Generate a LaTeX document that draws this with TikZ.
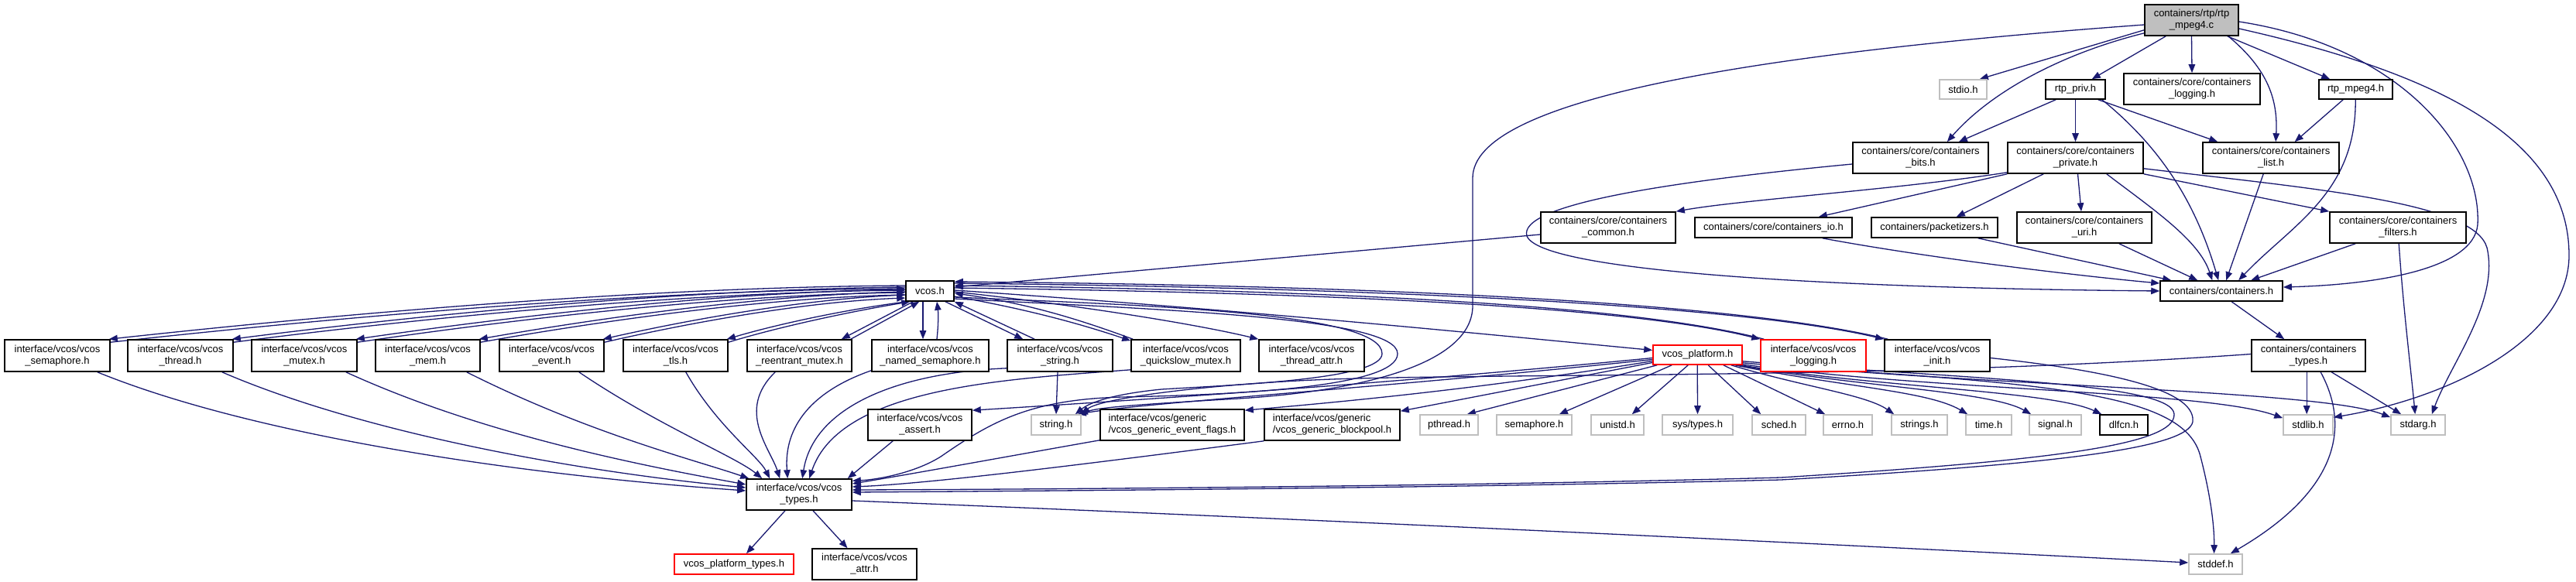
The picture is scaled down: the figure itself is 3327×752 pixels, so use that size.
\documentclass[tikz,border=0pt]{standalone}
\usepackage{fontspec}
\newfontfamily\nodefont{Liberation Sans}
\usetikzlibrary{arrows.meta}
\definecolor{edgec}{RGB}{25,25,112}
\definecolor{grayb}{RGB}{191,191,191}
\definecolor{redb}{RGB}{255,0,0}
\pgfdeclarelayer{bg}
\pgfsetlayers{bg,main}
\tikzset{
 nb/.style={draw=black, line width=1.6pt, fill=white, inner sep=0pt, align=center, font=\nodefont\fontsize{13pt}{15pt}\selectfont, text=black},
 ng/.style={nb, draw=grayb},
 nr/.style={nb, draw=redb},
 nmain/.style={nb, fill=grayb},
 nl/.style={nb, align=left},
 ed/.style={draw=edgec, line width=1.3pt, -{Triangle[length=11pt,width=8.5pt]}},
}
\newcommand{\mkbox}[7]{\node[#2, minimum width={(#4-#3)*1pt}, minimum height={(#6-#5)*1pt}] (#1) at ({(#3+#4)/2},{-(#5+#6)/2}) {#7};}
\begin{document}
\begin{tikzpicture}[x=1pt,y=1pt]
\useasboundingbox (0,0) rectangle (3327,-752);
% nodes
\mkbox{main}{nmain}{2770}{2891}{6}{46}{containers/rtp/rtp\\\_mpeg4.c}
\mkbox{stdio}{ng}{2505}{2566}{103}{128}{stdio.h}
\mkbox{rtppriv}{nb}{2642}{2719}{103}{128}{rtp\_priv.h}
\mkbox{clog}{nb}{2743}{2919}{95}{135}{containers/core/containers\\\_logging.h}
\mkbox{rtpmp4h}{nb}{2995}{3090}{103}{128}{rtp\_mpeg4.h}
\mkbox{bits}{nb}{2393}{2568}{184}{224}{containers/core/containers\\\_bits.h}
\mkbox{priv}{nb}{2593}{2768}{184}{224}{containers/core/containers\\\_private.h}
\mkbox{clist}{nb}{2845}{3021}{184}{224}{containers/core/containers\\\_list.h}
\mkbox{ccommon}{nb}{1990}{2164}{274}{314}{containers/core/containers\\\_common.h}
\mkbox{cio}{nb}{2189}{2392}{281}{307}{containers/core/containers\_io.h}
\mkbox{pkt}{nb}{2417}{2580}{281}{307}{containers/packetizers.h}
\mkbox{curi}{nb}{2605}{2779}{274}{314}{containers/core/containers\\\_uri.h}
\mkbox{cfilt}{nb}{3009}{3185}{274}{314}{containers/core/containers\\\_filters.h}
\mkbox{vcos}{nb}{1170}{1232}{363}{389}{vcos.h}
\mkbox{cont}{nb}{2790}{2948}{363}{389}{containers/containers.h}
\mkbox{vsem}{nb}{6}{142}{439}{480}{interface/vcos/vcos\\\_semaphore.h}
\mkbox{vthr}{nb}{165}{301}{439}{480}{interface/vcos/vcos\\\_thread.h}
\mkbox{vmut}{nb}{325}{461}{439}{480}{interface/vcos/vcos\\\_mutex.h}
\mkbox{vmem}{nb}{485}{620}{439}{480}{interface/vcos/vcos\\\_mem.h}
\mkbox{vevt}{nb}{645}{780}{439}{480}{interface/vcos/vcos\\\_event.h}
\mkbox{vtls}{nb}{805}{940}{439}{480}{interface/vcos/vcos\\\_tls.h}
\mkbox{vrmut}{nb}{965}{1100}{439}{480}{interface/vcos/vcos\\\_reentrant\_mutex.h}
\mkbox{vnsem}{nb}{1126}{1277}{439}{480}{interface/vcos/vcos\\\_named\_semaphore.h}
\mkbox{vstr}{nb}{1301}{1437}{439}{480}{interface/vcos/vcos\\\_string.h}
\mkbox{vqs}{nb}{1461}{1602}{439}{480}{interface/vcos/vcos\\\_quickslow\_mutex.h}
\mkbox{vta}{nb}{1626}{1762}{439}{480}{interface/vcos/vcos\\\_thread\_attr.h}
\mkbox{vplat}{nr}{2135}{2250}{446}{471}{vcos\_platform.h}
\mkbox{vlog}{nr}{2274}{2410}{439}{480}{interface/vcos/vcos\\\_logging.h}
\mkbox{vinit}{nb}{2434}{2570}{439}{480}{interface/vcos/vcos\\\_init.h}
\mkbox{ctypes}{nb}{2908}{3055}{439}{480}{containers/containers\\\_types.h}
\mkbox{vassert}{nb}{1121}{1255}{529}{569}{interface/vcos/vcos\\\_assert.h}
\mkbox{stringh}{ng}{1332}{1396}{536}{562}{string.h}
\mkbox{evf}{nl}{1421}{1607}{529}{569}{interface/vcos/generic\\/vcos\_generic\_event\_flags.h}
\mkbox{bpool}{nl}{1633}{1808}{529}{569}{interface/vcos/generic\\/vcos\_generic\_blockpool.h}
\mkbox{pthread}{ng}{1834}{1909}{536}{562}{pthread.h}
\mkbox{semh}{ng}{1933}{2030}{536}{562}{semaphore.h}
\mkbox{unistd}{ng}{2055}{2123}{536}{562}{unistd.h}
\mkbox{systypes}{ng}{2147}{2238}{536}{562}{sys/types.h}
\mkbox{sched}{ng}{2263}{2332}{536}{562}{sched.h}
\mkbox{errno}{ng}{2355}{2418}{536}{562}{errno.h}
\mkbox{strings}{ng}{2443}{2515}{536}{562}{strings.h}
\mkbox{timeh}{ng}{2539}{2598}{536}{562}{time.h}
\mkbox{signal}{ng}{2621}{2688}{536}{562}{signal.h}
\mkbox{dlfcn}{nb}{2712}{2774}{536}{562}{dlfcn.h}
\mkbox{stdlib}{ng}{2949}{3013}{536}{562}{stdlib.h}
\mkbox{stdarg}{ng}{3088}{3158}{536}{562}{stdarg.h}
\mkbox{vtypes}{nb}{964}{1100}{619}{659}{interface/vcos/vcos\\\_types.h}
\mkbox{vpt}{nr}{871}{1025}{716}{742}{vcos\_platform\_types.h}
\mkbox{vattr}{nb}{1049}{1184}{709}{749}{interface/vcos/vcos\\\_attr.h}
\mkbox{stddef}{ng}{2827}{2896}{716}{742}{stddef.h}
% edges
\begin{pgfonlayer}{bg}
% from main
\draw[ed] ([yshift=8pt]main.south west) -- ([xshift=-10pt]stdio.north east);
\draw[ed] ([xshift=28pt]main.south west) -- ([xshift=-18pt]rtppriv.north east);
\draw[ed] (main.south) -- (clog.north);
\draw[ed] ([xshift=-15pt]main.south east) -- ([xshift=15pt]rtpmp4h.north west);
\draw[ed] ([yshift=4pt]main.south west) .. controls (2660,-70) and (2570,-120) .. ([xshift=-54pt]bits.north east);
\draw[ed] ([xshift=-14pt]main.south east) .. controls (2930,-90) and (2942,-130) .. ([xshift=95pt]clist.north west);
\draw[ed] ([yshift=-2pt]main.east) .. controls (3100,-60) and (3205,-190) .. (3200,-290) .. controls (3195,-350) and (3060,-368) .. ([yshift=5pt]cont.east);
\draw[ed] ([yshift=-11pt]main.east) .. controls (3150,-95) and (3318,-180) .. (3318,-330) .. controls (3318,-440) and (3160,-515) .. ([yshift=-4pt]stdlib.north east);
\draw[ed] ([yshift=-6pt]main.west) .. controls (2250,-70) and (1902,-130) .. (1902,-230) -- (1902,-395) .. controls (1902,-470) and (1760,-505) .. (1600,-515) .. controls (1480,-522) and (1420,-526) .. ([xshift=-3pt]stringh.north east);
% rtp_priv.h
\draw[ed] ([xshift=14pt]rtppriv.south west) -- ([xshift=-39pt]bits.north east);
\draw[ed] (rtppriv.south) -- (priv.north);
\draw[ed] ([xshift=-10pt]rtppriv.south east) -- ([xshift=20pt]clist.north west);
\draw[ed] ([xshift=-5pt]rtppriv.south east) .. controls (2790,-190) and (2835,-260) .. ([xshift=76pt]cont.north west);
% rtp_mpeg4.h
\draw[ed] ([xshift=32pt]rtpmp4h.south west) -- ([xshift=-58pt]clist.north east);
\draw[ed] ([xshift=48pt]rtpmp4h.south west) .. controls (3043,-250) and (2960,-290) .. ([xshift=102pt]cont.north west);
% bits
\draw[ed] ([yshift=-8pt]bits.west) .. controls (2150,-235) and (1960,-265) .. (1972,-305) .. controls (1990,-350) and (2350,-372) .. (cont.west);
% private
\draw[ed] ([yshift=2pt]priv.south west) .. controls (2450,-245) and (2250,-258) .. (ccommon.north east);
\draw[ed] (priv.south west) -- ([xshift=-44pt]cio.north east);
\draw[ed] ([xshift=47pt]priv.south west) -- ([xshift=-54pt]pkt.north east);
\draw[ed] ([xshift=3pt]priv.south) -- ([xshift=-4pt]curi.north);
\draw[ed] ([xshift=-48pt]priv.south east) .. controls (2780,-270) and (2840,-310) .. ([xshift=68pt]cont.north west);
\draw[ed] (priv.south east) -- (cfilt.north west);
\draw[ed] ([yshift=7pt]priv.south east) .. controls (3000,-245) and (3195,-262) .. (3212,-320) .. controls (3228,-390) and (3165,-470) .. ([xshift=-18pt]stdarg.north east);
% common
\draw[ed] ([yshift=-9pt]ccommon.west) -- ([yshift=5pt]vcos.east);
% into containers.h
\draw[ed] ([xshift=-39pt]cio.south east) .. controls (2500,-335) and (2700,-358) .. ([yshift=10pt]cont.west);
\draw[ed] ([xshift=-26pt]pkt.south east) -- ([xshift=15pt]cont.north west);
\draw[ed] ([xshift=-43pt]curi.south east) -- ([xshift=49pt]cont.north west);
\draw[ed] ([xshift=79pt]clist.south west) -- ([xshift=86pt]cont.north west);
\draw[ed] ([xshift=34pt]cfilt.south west) -- ([xshift=118pt]cont.north west);
\draw[ed] ([xshift=90pt]cfilt.south west) .. controls (3104,-400) and (3114,-480) .. ([xshift=32pt]stdarg.north west);
\draw[ed] ([xshift=93pt]cont.south west) -- ([xshift=43pt]ctypes.north west);
% containers_types
\draw[ed] ([xshift=72pt]ctypes.south west) -- ([xshift=31pt]stdlib.north west);
\draw[ed] ([xshift=104pt]ctypes.south west) -- ([xshift=14pt]stdarg.north west);
\draw[ed] ([xshift=90pt]ctypes.south west) .. controls (3040,-560) and (3010,-640) .. ([xshift=-16pt]stddef.north east);
\draw[ed] ([yshift=2pt]ctypes.west) .. controls (2450,-490) and (1950,-482) .. (1720,-490) .. controls (1560,-496) and (1420,-515) .. (stringh.north east);
% vcos <-> left headers
\draw[ed] ([yshift=7pt]vcos.west) .. controls (810,-371) and (400,-410) .. ([xshift=-2pt]vsem.north east);
\draw[ed] ([yshift=-4pt]vsem.north east) .. controls (400,-414) and (810,-375) .. ([yshift=3pt]vcos.west);
\draw[ed] ([yshift=5pt]vcos.west) .. controls (866,-374) and (518,-410) .. ([xshift=-2pt]vthr.north east);
\draw[ed] ([yshift=-4pt]vthr.north east) .. controls (518,-414) and (866,-378) .. ([yshift=1pt]vcos.west);
\draw[ed] ([yshift=2pt]vcos.west) .. controls (922,-377) and (640,-412) .. ([xshift=-2pt]vmut.north east);
\draw[ed] ([yshift=-4pt]vmut.north east) .. controls (640,-416) and (922,-381) .. ([yshift=-2pt]vcos.west);
\draw[ed] ([yshift=-1pt]vcos.west) .. controls (977,-381) and (757,-414) .. ([xshift=-2pt]vmem.north east);
\draw[ed] ([yshift=-4pt]vmem.north east) .. controls (757,-418) and (977,-385) .. ([yshift=-5pt]vcos.west);
\draw[ed] ([yshift=-5pt]vcos.west) .. controls (1033,-386) and (877,-416) .. ([xshift=-2pt]vevt.north east);
\draw[ed] ([yshift=-4pt]vevt.north east) .. controls (877,-420) and (1033,-390) .. ([yshift=-9pt]vcos.west);
\draw[ed] ([xshift=2pt]vcos.south west) .. controls (1090,-400) and (1000,-420) .. ([xshift=-2pt]vtls.north east);
\draw[ed] ([yshift=-4pt]vtls.north east) .. controls (1000,-424) and (1090,-404) .. ([xshift=6pt]vcos.south west);
\draw[ed] ([xshift=10pt]vcos.south west) -- ([xshift=-14pt]vrmut.north east);
\draw[ed] ([xshift=-2pt]vrmut.north east) -- ([xshift=18pt]vcos.south west);
\draw[ed] ([xshift=-9pt]vcos.south) -- ([xshift=-9.5pt]vnsem.north);
\draw[ed] ([xshift=8.5pt]vnsem.north) .. controls (1212,-420) and (1212,-405) .. ([xshift=9pt]vcos.south);
\draw[ed] ([xshift=20pt]vcos.south) -- ([xshift=21pt]vstr.north west);
\draw[ed] ([xshift=36pt]vstr.north west) -- (vcos.south east);
\draw[ed] ([yshift=-7pt]vcos.east) .. controls (1330,-400) and (1400,-420) .. ([yshift=-2pt]vqs.north west);
\draw[ed] ([xshift=3pt]vqs.north west) .. controls (1400,-415) and (1330,-392) .. ([yshift=-3pt]vcos.east);
\draw[ed] ([yshift=-1pt]vcos.east) .. controls (1400,-395) and (1550,-420) .. (vta.north west);
\draw[ed] ([yshift=1pt]vcos.east) .. controls (1600,-400) and (1900,-430) .. ([yshift=6pt]vplat.west);
\draw[ed] ([yshift=4pt]vcos.east) .. controls (1700,-378) and (2100,-395) .. (vlog.north west);
\draw[ed] ([xshift=5pt]vlog.north west) .. controls (2100,-392) and (1700,-375) .. ([yshift=7pt]vcos.east);
\draw[ed] ([yshift=10pt]vcos.east) .. controls (1800,-372) and (2250,-395) .. (vinit.north west);
\draw[ed] ([xshift=5pt]vinit.north west) .. controls (2250,-392) and (1800,-369) .. ([yshift=12pt]vcos.east);
\draw[ed] ([yshift=-10pt]vcos.east) .. controls (1500,-400) and (1805,-410) .. (1805,-457) .. controls (1805,-500) and (1600,-510) .. (1450,-513) .. controls (1330,-516) and (1280,-545) .. (1215,-590) .. controls (1180,-612) and (1130,-620) .. ([yshift=-3pt]vtypes.north east);
\draw[ed] ([yshift=-8pt]vcos.east) .. controls (1500,-395) and (1785,-405) .. (1785,-457) .. controls (1785,-490) and (1600,-497) .. (1500,-503) .. controls (1430,-510) and (1405,-522) .. ([xshift=-8pt]stringh.north east);
% vcos_platform.h
\draw[ed] ([yshift=-4pt]vplat.west) .. controls (1800,-495) and (1500,-515) .. ([yshift=-2pt]vassert.north east);
\draw[ed] ([yshift=-6pt]vplat.west) .. controls (1800,-500) and (1480,-520) .. ([xshift=-5pt]stringh.north east);
\draw[ed] ([yshift=-8pt]vplat.west) .. controls (1900,-505) and (1700,-522) .. ([yshift=-2pt]evf.north east);
\draw[ed] ([yshift=-10pt]vplat.west) -- ([yshift=-3pt]bpool.north east);
\draw[ed] ([xshift=6pt]vplat.south west) -- ([xshift=-15pt]pthread.north east);
\draw[ed] ([xshift=25pt]vplat.south west) -- ([xshift=-17pt]semh.north east);
\draw[ed] ([xshift=46pt]vplat.south west) -- ([xshift=-16pt]unistd.north east);
\draw[ed] ([xshift=58pt]vplat.south west) -- (systypes.north);
\draw[ed] ([xshift=72pt]vplat.south west) -- ([xshift=12pt]sched.north west);
\draw[ed] ([xshift=-25pt]vplat.south east) -- ([xshift=3pt]errno.north west);
\draw[ed] ([xshift=-15pt]vplat.south east) .. controls (2330,-500) and (2410,-510) .. ([xshift=4pt]strings.north west);
\draw[ed] ([xshift=-10pt]vplat.south east) .. controls (2380,-500) and (2490,-505) .. ([xshift=3pt]timeh.north west);
\draw[ed] ([xshift=-6pt]vplat.south east) .. controls (2400,-500) and (2570,-505) .. ([xshift=3pt]signal.north west);
\draw[ed] ([xshift=-3pt]vplat.south east) .. controls (2420,-500) and (2650,-505) .. ([xshift=3pt]dlfcn.north west);
\draw[ed] ([yshift=1pt]vplat.south east) .. controls (2500,-505) and (2850,-505) .. ([yshift=-5pt]stdlib.north west);
\draw[ed] ([yshift=3pt]vplat.south east) .. controls (2600,-500) and (3000,-505) .. ([yshift=-4pt]stdarg.north west);
\draw[ed] ([yshift=5pt]vplat.south east) .. controls (2550,-490) and (2805,-495) .. (2808,-535) .. controls (2810,-575) and (2650,-595) .. (2300,-617) .. controls (1900,-628) and (1400,-632) .. ([yshift=6pt]vtypes.east);
\draw[ed] ([yshift=-3pt]vinit.east) .. controls (2780,-485) and (2835,-515) .. (2832,-545) .. controls (2825,-580) and (2650,-600) .. (2300,-620) .. controls (1900,-630) and (1400,-634) .. ([yshift=3pt]vtypes.east);
\draw[ed] (vlog.south east) .. controls (2700,-500) and (2825,-520) .. (2842,-590) .. controls (2855,-640) and (2860,-680) .. ([xshift=-2pt]stddef.north);
% vcos_types.h
\draw[ed] ([xshift=-18pt]vtypes.south) -- ([xshift=16pt]vpt.north);
\draw[ed] ([xshift=18pt]vtypes.south) -- ([xshift=-22pt]vattr.north);
\draw[ed] ([yshift=-8pt]vtypes.east) .. controls (1800,-675) and (2500,-710) .. ([yshift=2pt]stddef.west);
\draw[ed] ([xshift=-17pt]vsem.south east) .. controls (320,-560) and (650,-612) .. ([yshift=5pt]vtypes.west);
\draw[ed] ([xshift=-15pt]vthr.south east) .. controls (470,-560) and (750,-610) .. ([yshift=9pt]vtypes.west);
\draw[ed] ([xshift=-15pt]vmut.south east) .. controls (620,-560) and (820,-600) .. ([yshift=13pt]vtypes.west);
\draw[ed] ([xshift=-18pt]vmem.south east) .. controls (760,-560) and (900,-595) .. ([xshift=4pt]vtypes.north west);
\draw[ed] ([xshift=-33pt]vevt.south east) .. controls (850,-550) and (950,-590) .. ([xshift=21pt]vtypes.north west);
\draw[ed] ([xshift=-55pt]vtls.south east) .. controls (925,-550) and (980,-590) .. ([xshift=31pt]vtypes.north west);
\draw[ed] ([xshift=37pt]vrmut.south west) .. controls (950,-530) and (995,-580) .. ([xshift=44pt]vtypes.north west);
\draw[ed] ([yshift=2pt]vnsem.south west) .. controls (1050,-505) and (1012,-550) .. ([xshift=54pt]vtypes.north west);
\draw[ed] ([yshift=5pt]vstr.south west) .. controls (1150,-482) and (1050,-530) .. ([xshift=73pt]vtypes.north west);
\draw[ed] ([yshift=3pt]vqs.south west) .. controls (1300,-490) and (1085,-500) .. ([xshift=82pt]vtypes.north west);
\draw[ed] ([xshift=33pt]vassert.south west) -- ([xshift=-6pt]vtypes.north east);
\draw[ed] ([yshift=1pt]evf.south west) .. controls (1300,-590) and (1180,-612) .. ([yshift=14pt]vtypes.east);
\draw[ed] (bpool.south west) .. controls (1400,-600) and (1200,-625) .. ([yshift=10pt]vtypes.east);
\draw[ed] ([xshift=-3pt]vstr.south) -- (stringh.north);
\end{pgfonlayer}
\end{tikzpicture}
\end{document}
